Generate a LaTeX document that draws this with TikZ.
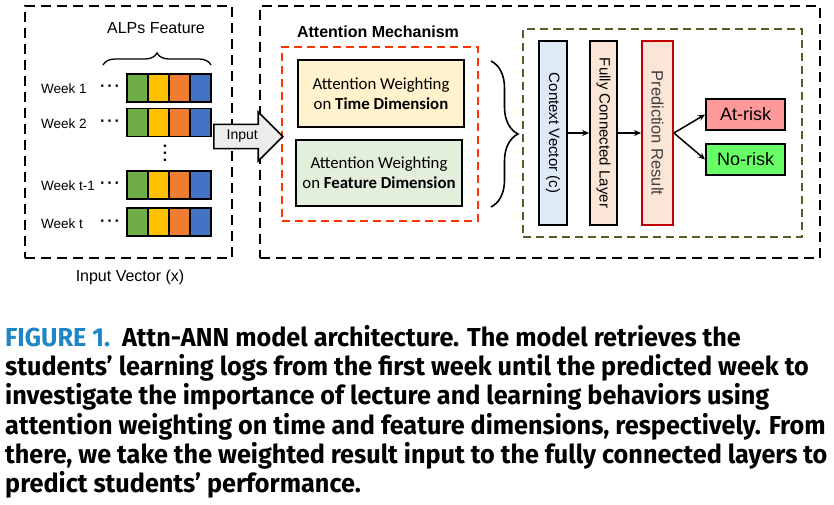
\documentclass[tikz,border=0pt]{standalone}
\usepackage{fontspec}
\setmainfont{Liberation Sans}
\newfontfamily\calfont{Carlito}
\newfontfamily\capfont[FakeStretch=0.97]{Fira Sans}
\usetikzlibrary{positioning}
\usetikzlibrary{arrows.meta}
\usetikzlibrary{shapes.arrows}
\usetikzlibrary{decorations.pathreplacing}

\definecolor{cellgreen}{HTML}{70AD47}
\definecolor{cellyellow}{HTML}{FFC000}
\definecolor{cellorange}{HTML}{ED7D31}
\definecolor{cellblue}{HTML}{4472C4}
\definecolor{timefill}{HTML}{FFF2CC}
\definecolor{featfill}{HTML}{E2EFDA}
\definecolor{ctxfill}{HTML}{DEEBF7}
\definecolor{fcfill}{HTML}{FBE5D6}
\definecolor{predred}{HTML}{C00000}
\definecolor{attred}{HTML}{FF3300}
\definecolor{outgreen}{HTML}{4F6228}
\definecolor{atriskfill}{HTML}{FF9999}
\definecolor{noriskfill}{HTML}{66FF66}
\definecolor{capblue}{HTML}{1F86C6}

\newcommand{\rowdots}{\textbf{·\hspace{2pt}·\hspace{2pt}·}}

\begin{document}
\begin{tikzpicture}[x=1pt, y=-1pt, >={Stealth[length=7pt, width=6pt]},
    frame/.style={draw, dash pattern=on 10pt off 6pt, line width=2pt, inner sep=0pt},
    cell/.style={draw, line width=1.3pt, minimum width=21pt, minimum height=28pt, inner sep=0pt},
    weeklabel/.style={anchor=west, inner sep=0pt, font=\fontsize{13.5}{16}\selectfont},
    dotmark/.style={inner sep=0pt, font=\fontsize{16}{16}\selectfont},
    wbox/.style={draw, line width=1.8pt, inner sep=0pt, align=center, font=\calfont\fontsize{16.8}{20}\selectfont},
    layer/.style={draw, line width=1.8pt, rotate=-90, minimum width=184pt, inner sep=0pt, font=\fontsize{15}{18}\selectfont},
    riskbox/.style={draw, line width=1.8pt, minimum width=79pt, minimum height=31pt, inner sep=0pt, font=\fontsize{18}{20}\selectfont},
    capline/.style={anchor=base west, inner sep=0pt, font=\capfont\bfseries\fontsize{26}{29}\selectfont}]

                \useasboundingbox (0,0) rectangle (834,505);

                % Frames
                \node at (128.5,132) (inframe) [frame, minimum width=207pt, minimum height=252pt] {};
                \node at (540,132) (attframe) [frame, minimum width=560pt, minimum height=252pt] {};
                \node at (380,134) (mechframe) [draw=attred, dash pattern=on 8pt off 5pt, line width=1.6pt, minimum width=196pt, minimum height=174pt] {};
                \node at (662.5,133) (outframe) [draw=outgreen, dash pattern=on 8pt off 5pt, line width=1.6pt, minimum width=279pt, minimum height=208pt] {};

                % Input vector
                \node at (156,28) (alps) {\fontsize{16}{18}\selectfont ALPs Feature};
                \coordinate (bracel) at (103,65);
                \coordinate (bracer) at (211,65);
                \draw[decorate, decoration={brace, amplitude=12pt}, line width=1.3pt] (bracel) -- (bracer);

                \node at (41,89) (week1) [weeklabel] {Week 1};
                \node at (41,124) (week2) [weeklabel] {Week 2};
                \node at (41,186) (week3) [weeklabel] {Week t-1};
                \node at (41,224) (week4) [weeklabel] {Week t};
                \node at (110,88) (dots1) [dotmark] {\rowdots};
                \node at (110,123) (dots2) [dotmark] {\rowdots};
                \node at (110,185) (dots3) [dotmark] {\rowdots};
                \node at (110,223) (dots4) [dotmark] {\rowdots};
                \node at (167,153) (vdots) [dotmark, rotate=90] {\rowdots};

                \node at (137.5,88) (green1) [cell, fill=cellgreen] {};
                \node at (158.5,88) (yellow1) [cell, fill=cellyellow] {};
                \node at (179.5,88) (orange1) [cell, fill=cellorange] {};
                \node at (200.5,88) (blue1) [cell, fill=cellblue] {};
                \node at (137.5,122.5) (green2) [cell, fill=cellgreen] {};
                \node at (158.5,122.5) (yellow2) [cell, fill=cellyellow] {};
                \node at (179.5,122.5) (orange2) [cell, fill=cellorange] {};
                \node at (200.5,122.5) (blue2) [cell, fill=cellblue] {};
                \node at (137.5,185) (green3) [cell, fill=cellgreen] {};
                \node at (158.5,185) (yellow3) [cell, fill=cellyellow] {};
                \node at (179.5,185) (orange3) [cell, fill=cellorange] {};
                \node at (200.5,185) (blue3) [cell, fill=cellblue] {};
                \node at (137.5,222) (green4) [cell, fill=cellgreen] {};
                \node at (158.5,222) (yellow4) [cell, fill=cellyellow] {};
                \node at (179.5,222) (orange4) [cell, fill=cellorange] {};
                \node at (200.5,222) (blue4) [cell, fill=cellblue] {};

                \node at (130,277) (invec) {\fontsize{16}{18}\selectfont Input Vector (x)};

                \node at (213,136.5) (inarrow) [single arrow, draw, line width=1.6pt, fill=gray!15, anchor=tail, minimum height=69pt, single arrow head extend=12.5pt, inner ysep=5pt, inner xsep=2pt, font=\fontsize{14}{16}\selectfont] {Input};

                % Attention mechanism
                \node at (378,32) (mech) {\fontsize{16}{18}\selectfont\bfseries Attention Mechanism};
                \node at (381,93.5) (timew) [wbox, fill=timefill, minimum width=166pt, minimum height=67pt] {Attention Weighting\\on \textbf{Time Dimension}};
                \node at (379,173) (featw) [wbox, fill=featfill, minimum width=166pt, minimum height=66pt] {Attention Weighting\\on \textbf{Feature Dimension}};
                \coordinate (bracet) at (491,61);
                \coordinate (braceb) at (491,207);
                \draw[decorate, decoration={brace, amplitude=27pt}, line width=1.6pt] (bracet) -- (braceb);

                % Output layers
                \node at (553,133) (ctx) [layer, fill=ctxfill, minimum height=28pt] {Context Vector (c)};
                \node at (603.5,133) (fc) [layer, fill=fcfill, minimum height=27pt] {Fully Connected Layer};
                \node at (657.5,133) (pred) [layer, draw=predred, fill=fcfill, minimum height=31pt, text=black!75, font=\fontsize{16.5}{18}\selectfont] {Prediction Result};
                \node at (745.5,114.5) (atrisk) [riskbox, fill=atriskfill] {At-risk};
                \node at (745.5,159.5) (norisk) [riskbox, fill=noriskfill] {No-risk};

                % Arrows
                \draw[->, line width=1.5pt] (ctx) -- (fc);
                \draw[->, line width=1.5pt] (fc) -- (pred);
                \draw[->, line width=1.5pt] (pred.north) -- (atrisk.west);
                \draw[->, line width=1.5pt] (pred.north) -- (norisk.west);

                % Caption
                \node at (5,346) (cap1) [capline] {{\color{capblue}FIGURE 1.}\ \ Attn-ANN model architecture. The model retrieves the};
                \node at (5,375) (cap2) [capline] {students’ learning logs from the first week until the predicted week to};
                \node at (5,404.5) (cap3) [capline] {investigate the importance of lecture and learning behaviors using};
                \node at (5,434) (cap4) [capline] {attention weighting on time and feature dimensions, respectively. From};
                \node at (5,463) (cap5) [capline] {there, we take the weighted result input to the fully connected layers to};
                \node at (5,492.5) (cap6) [capline] {predict students’ performance.};

            \end{tikzpicture}
\end{document}
